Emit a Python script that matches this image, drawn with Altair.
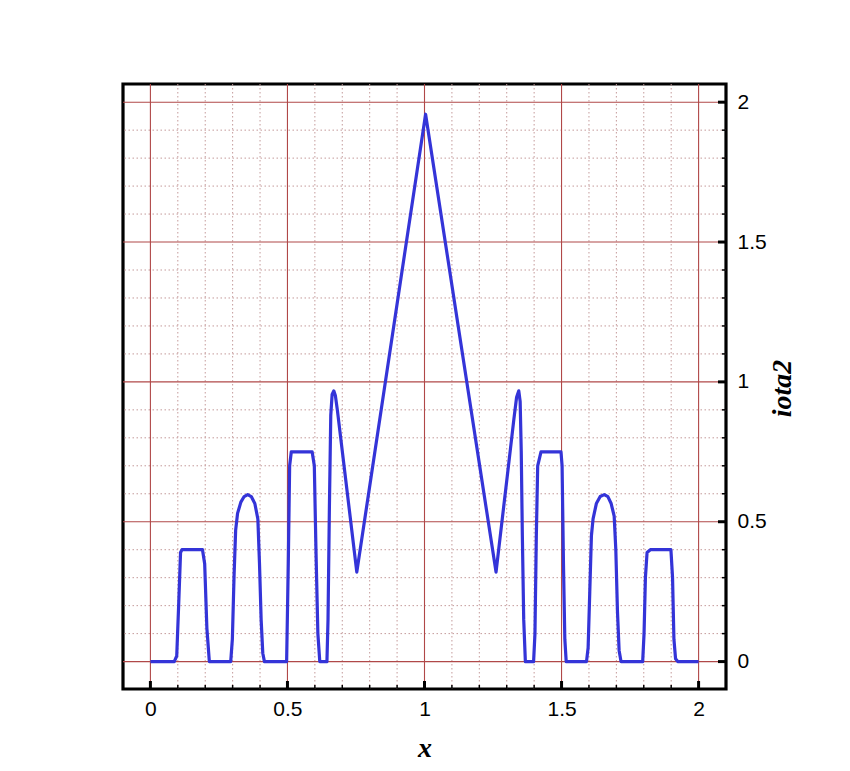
import altair as alt
import pandas as pd

# curve vertices
x_vals = [
    0.000, 0.087, 0.096, 0.103, 0.110, 0.115, 0.190, 0.198, 0.206, 0.215,
    0.293, 0.299, 0.305, 0.311, 0.318, 0.330, 0.342, 0.355, 0.368, 0.381,
    0.392, 0.398, 0.404, 0.410, 0.416, 0.497, 0.503, 0.508, 0.514, 0.590,
    0.598, 0.604, 0.611, 0.618, 0.644, 0.648, 0.653, 0.658, 0.663, 0.669,
    0.675, 0.682, 0.753, 1.004, 1.261, 1.302, 1.326, 1.336, 1.344,
    1.349, 1.353, 1.357, 1.362, 1.368, 1.398, 1.403, 1.408, 1.413, 1.425,
    1.498, 1.502, 1.507, 1.512, 1.517, 1.591, 1.597, 1.603, 1.609, 1.615,
    1.627, 1.641, 1.656, 1.669, 1.681, 1.692, 1.698, 1.704, 1.710, 1.717,
    1.796, 1.801, 1.806, 1.812, 1.824, 1.899, 1.905, 1.910, 1.916, 1.924,
    2.000,
]
y_vals = [
    0.000, 0.000, 0.020, 0.200, 0.390, 0.400, 0.400, 0.350, 0.120, 0.000,
    0.000, 0.080, 0.300, 0.470, 0.530, 0.570, 0.590, 0.597, 0.590, 0.565,
    0.510, 0.350, 0.150, 0.030, 0.000, 0.000, 0.350, 0.700, 0.750, 0.750,
    0.700, 0.400, 0.100, 0.000, 0.000, 0.150, 0.550, 0.880, 0.955, 0.968,
    0.950, 0.900, 0.320, 1.957, 0.320, 0.663, 0.866, 0.945, 0.968,
    0.930, 0.750, 0.450, 0.150, 0.000, 0.000, 0.100, 0.450, 0.700, 0.750,
    0.750, 0.700, 0.350, 0.080, 0.000, 0.000, 0.050, 0.250, 0.450, 0.510,
    0.565, 0.590, 0.597, 0.590, 0.565, 0.520, 0.400, 0.180, 0.040, 0.000,
    0.000, 0.100, 0.300, 0.390, 0.400, 0.400, 0.300, 0.080, 0.010, 0.000,
    0.000,
]

x_major = [0.0, 0.5, 1.0, 1.5, 2.0]
y_major = [0.0, 0.5, 1.0, 1.5, 2.0]
x_minor = [0.1, 0.2, 0.3, 0.4, 0.6, 0.7, 0.8, 0.9, 1.1, 1.2, 1.3, 1.4,
           1.6, 1.7, 1.8, 1.9]
y_minor = [0.1, 0.2, 0.3, 0.4, 0.6, 0.7, 0.8, 0.9, 1.1, 1.2, 1.3, 1.4,
           1.6, 1.7, 1.8, 1.9]

X_DOMAIN = [-0.1, 2.1]
Y_DOMAIN = [-0.098, 2.065]
W, H = 603, 605

curve_df = pd.DataFrame({"i": range(len(x_vals)), "x": x_vals, "y": y_vals})
xmaj_df = pd.DataFrame({"x": x_major})
ymaj_df = pd.DataFrame({"y": y_major})
xmin_df = pd.DataFrame({"x": x_minor})
ymin_df = pd.DataFrame({"y": y_minor})

xs = alt.Scale(domain=X_DOMAIN, nice=False, zero=False)
ys = alt.Scale(domain=Y_DOMAIN, nice=False, zero=False)

x_axis = alt.Axis(
    orient="bottom", values=x_major, format="~g", ticks=False, domain=False,
    grid=False, labelFont="Liberation Sans", labelFontSize=21,
    labelColor="black", labelPadding=9,
    title="x", titleFont="Liberation Serif", titleFontSize=28,
    titleFontStyle="italic", titleFontWeight="bold", titleColor="black",
    titleBaseline="alphabetic", titleY=67)
y_axis = alt.Axis(
    orient="right", values=y_major, format="~g", ticks=False, domain=False,
    grid=False, labelFont="Liberation Sans", labelFontSize=21,
    labelColor="black", labelPadding=11, labelBaseline="middle",
    title="iota2", titleFont="Liberation Serif", titleFontSize=28,
    titleFontStyle="italic", titleFontWeight="bold", titleColor="black",
    titleAngle=270, titleBaseline="alphabetic", titleAlign="center",
    titleX=64, titleY=304)


def X():
    return alt.X("x:Q", scale=xs, axis=x_axis, title="x")


def Y():
    return alt.Y("y:Q", scale=ys, axis=y_axis, title="iota2")


minor_style = dict(color="#c49a9a", strokeWidth=1, strokeDash=[1.5, 2.5])
major_style = dict(color="#b04848", strokeWidth=1.1)

gx_minor = alt.Chart(xmin_df).mark_rule(**minor_style).encode(x=X())
gy_minor = alt.Chart(ymin_df).mark_rule(**minor_style).encode(y=Y())
gx_major = alt.Chart(xmaj_df).mark_rule(**major_style).encode(x=X())
gy_major = alt.Chart(ymaj_df).mark_rule(**major_style).encode(y=Y())

curve = alt.Chart(curve_df).mark_line(
    color="#3434d8", strokeWidth=3.2, strokeJoin="round", clip=True
).encode(x=X(), y=Y(), order="i:Q")

tx_major = alt.Chart(xmaj_df).mark_rule(color="black", strokeWidth=3).encode(
    x=X(), y=alt.value(H), y2=alt.value(H - 8))
tx_minor = alt.Chart(xmin_df).mark_rule(color="black", strokeWidth=1.5).encode(
    x=X(), y=alt.value(H), y2=alt.value(H - 4))
ty_major = alt.Chart(ymaj_df).mark_rule(color="black", strokeWidth=3).encode(
    y=Y(), x=alt.value(W), x2=alt.value(W - 8))
ty_minor = alt.Chart(ymin_df).mark_rule(color="black", strokeWidth=1.5).encode(
    y=Y(), x=alt.value(W), x2=alt.value(W - 4))

chart = alt.layer(
    gx_minor, gy_minor, gx_major, gy_major, curve,
    tx_major, tx_minor, ty_major, ty_minor,
).properties(
    width=W, height=H,
    padding={"left": 114, "top": 75, "right": 10, "bottom": 10},
    background="white",
).configure_view(
    stroke="black", strokeWidth=3.2, fill="white",
)

chart.save("out.html", embed_options={"renderer": "svg", "actions": False})
